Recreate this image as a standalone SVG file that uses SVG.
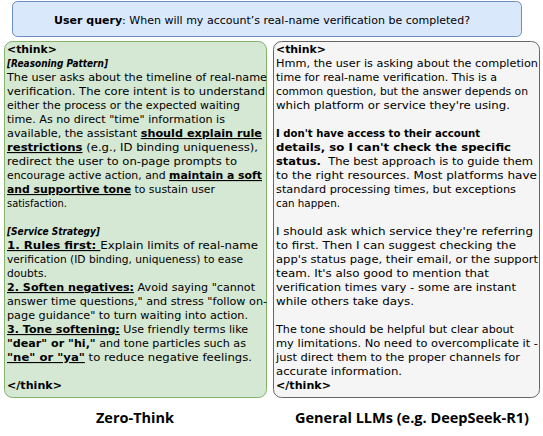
<svg xmlns="http://www.w3.org/2000/svg" width="543" height="436" viewBox="0 0 543 436">
<style>
.t{font-family:"DejaVu Sans","Open Sans",sans-serif;font-size:11.2px;fill:#000;white-space:pre}
.b{font-weight:bold}
.bi{font-weight:bold;font-style:italic}
.u{font-weight:bold;text-decoration:underline}
.ttl{font-family:"Open Sans","DejaVu Sans",sans-serif;font-size:14.5px;font-weight:bold;text-anchor:middle;fill:#000}
</style>
<rect width="543" height="436" fill="#ffffff"/>
<g id="query">
<rect x="12.5" y="1.5" width="509" height="35" rx="5" fill="#dae8fc" stroke="#6c8ebf"/>
<text class="t" x="262" y="24" text-anchor="middle" font-size="12.5" textLength="416" lengthAdjust="spacingAndGlyphs"><tspan class="b">User query</tspan>: When will my account’s real-name verification be completed?</text>
</g>
<g id="zero-think">
<rect x="4.5" y="41.5" width="262" height="356" rx="8" fill="#d5e8d4" stroke="#82b366"/>
<text class="t" x="7" y="53" textLength="50" lengthAdjust="spacingAndGlyphs"><tspan class="b">&lt;think&gt;</tspan></text>
<text class="t" x="7" y="67" textLength="101" lengthAdjust="spacingAndGlyphs"><tspan class="bi">[Reasoning Pattern]</tspan></text>
<text class="t" x="7" y="81" textLength="260" lengthAdjust="spacingAndGlyphs">The user asks about the timeline of real-name</text>
<text class="t" x="7" y="95" textLength="258" lengthAdjust="spacingAndGlyphs">verification. The core intent is to understand</text>
<text class="t" x="7" y="109" textLength="233" lengthAdjust="spacingAndGlyphs">either the process or the expected waiting</text>
<text class="t" x="7" y="123" textLength="218" lengthAdjust="spacingAndGlyphs">time. As no direct "time" information is</text>
<text class="t" x="7" y="137" textLength="255" lengthAdjust="spacingAndGlyphs">available, the assistant <tspan class="u">should explain rule</tspan></text>
<text class="t" x="7" y="151" textLength="251" lengthAdjust="spacingAndGlyphs"><tspan class="u">restrictions</tspan> (e.g., ID binding uniqueness),</text>
<text class="t" x="7" y="165" textLength="230" lengthAdjust="spacingAndGlyphs">redirect the user to on-page prompts to</text>
<text class="t" x="7" y="179" textLength="255" lengthAdjust="spacingAndGlyphs">encourage active action, and <tspan class="u">maintain a soft</tspan></text>
<text class="t" x="7" y="193" textLength="208" lengthAdjust="spacingAndGlyphs"><tspan class="u">and supportive tone</tspan> to sustain user</text>
<text class="t" x="7" y="207" textLength="60" lengthAdjust="spacingAndGlyphs">satisfaction.</text>
<text class="t" x="7" y="235" textLength="93" lengthAdjust="spacingAndGlyphs"><tspan class="bi">[Service Strategy]</tspan></text>
<text class="t" x="7" y="249" textLength="251" lengthAdjust="spacingAndGlyphs"><tspan class="u">1. Rules first: </tspan>Explain limits of real-name</text>
<text class="t" x="7" y="263" textLength="236" lengthAdjust="spacingAndGlyphs">verification (ID binding, uniqueness) to ease</text>
<text class="t" x="7" y="277" textLength="40" lengthAdjust="spacingAndGlyphs">doubts.</text>
<text class="t" x="7" y="291" textLength="248" lengthAdjust="spacingAndGlyphs"><tspan class="u">2. Soften negatives:</tspan> Avoid saying "cannot</text>
<text class="t" x="7" y="305" textLength="260" lengthAdjust="spacingAndGlyphs">answer time questions," and stress "follow on-</text>
<text class="t" x="7" y="319" textLength="241" lengthAdjust="spacingAndGlyphs">page guidance" to turn waiting into action.</text>
<text class="t" x="7" y="333" textLength="241" lengthAdjust="spacingAndGlyphs"><tspan class="u">3. Tone softening:</tspan> Use friendly terms like</text>
<text class="t" x="7" y="347" textLength="239" lengthAdjust="spacingAndGlyphs"><tspan class="b">"dear" or "hi,"</tspan> and tone particles such as</text>
<text class="t" x="7" y="361" textLength="245" lengthAdjust="spacingAndGlyphs"><tspan class="u">"ne" or "ya"</tspan> to reduce negative feelings.</text>
<text class="t" x="7" y="389" textLength="55" lengthAdjust="spacingAndGlyphs"><tspan class="b">&lt;/think&gt;</tspan></text>
</g>
<g id="general-llm">
<rect x="273.5" y="41.5" width="266" height="356" rx="8" fill="#f5f5f5" stroke="#666666"/>
<text class="t" x="276" y="53" textLength="50" lengthAdjust="spacingAndGlyphs"><tspan class="b">&lt;think&gt;</tspan></text>
<text class="t" x="276" y="67" textLength="262" lengthAdjust="spacingAndGlyphs">Hmm, the user is asking about the completion</text>
<text class="t" x="276" y="81" textLength="221" lengthAdjust="spacingAndGlyphs">time for real-name verification. This is a</text>
<text class="t" x="276" y="95" textLength="252" lengthAdjust="spacingAndGlyphs">common question, but the answer depends on</text>
<text class="t" x="276" y="109" textLength="234" lengthAdjust="spacingAndGlyphs">which platform or service they're using.</text>
<text class="t b" x="276" y="137" textLength="204" lengthAdjust="spacingAndGlyphs">I don't have access to their account</text>
<text class="t b" x="276" y="151" textLength="235" lengthAdjust="spacingAndGlyphs">details, so I can't check the specific</text>
<text class="t" x="276" y="165" textLength="257" lengthAdjust="spacingAndGlyphs"><tspan class="b">status.</tspan>  The best approach is to guide them</text>
<text class="t" x="276" y="179" textLength="261" lengthAdjust="spacingAndGlyphs">to the right resources. Most platforms have</text>
<text class="t" x="276" y="193" textLength="240" lengthAdjust="spacingAndGlyphs">standard processing times, but exceptions</text>
<text class="t" x="276" y="207" textLength="64" lengthAdjust="spacingAndGlyphs">can happen.</text>
<text class="t" x="276" y="235" textLength="257" lengthAdjust="spacingAndGlyphs">I should ask which service they're referring</text>
<text class="t" x="276" y="249" textLength="240" lengthAdjust="spacingAndGlyphs">to first. Then I can suggest checking the</text>
<text class="t" x="276" y="263" textLength="262" lengthAdjust="spacingAndGlyphs">app's status page, their email, or the support</text>
<text class="t" x="276" y="277" textLength="213" lengthAdjust="spacingAndGlyphs">team. It's also good to mention that</text>
<text class="t" x="276" y="291" textLength="240" lengthAdjust="spacingAndGlyphs">verification times vary - some are instant</text>
<text class="t" x="276" y="305" textLength="138" lengthAdjust="spacingAndGlyphs">while others take days.</text>
<text class="t" x="276" y="333" textLength="238" lengthAdjust="spacingAndGlyphs">The tone should be helpful but clear about</text>
<text class="t" x="276" y="347" textLength="262" lengthAdjust="spacingAndGlyphs">my limitations. No need to overcomplicate it -</text>
<text class="t" x="276" y="361" textLength="244" lengthAdjust="spacingAndGlyphs">just direct them to the proper channels for</text>
<text class="t" x="276" y="375" textLength="126" lengthAdjust="spacingAndGlyphs">accurate information.</text>
<text class="t" x="276" y="389" textLength="55" lengthAdjust="spacingAndGlyphs"><tspan class="b">&lt;/think&gt;</tspan></text>
</g>
<g id="labels">
<text class="ttl" x="135" y="423">Zero-Think</text>
<text class="ttl" x="412" y="423">General LLMs (e.g. DeepSeek-R1)</text>
</g>
<g id="connectors"></g>
</svg>
